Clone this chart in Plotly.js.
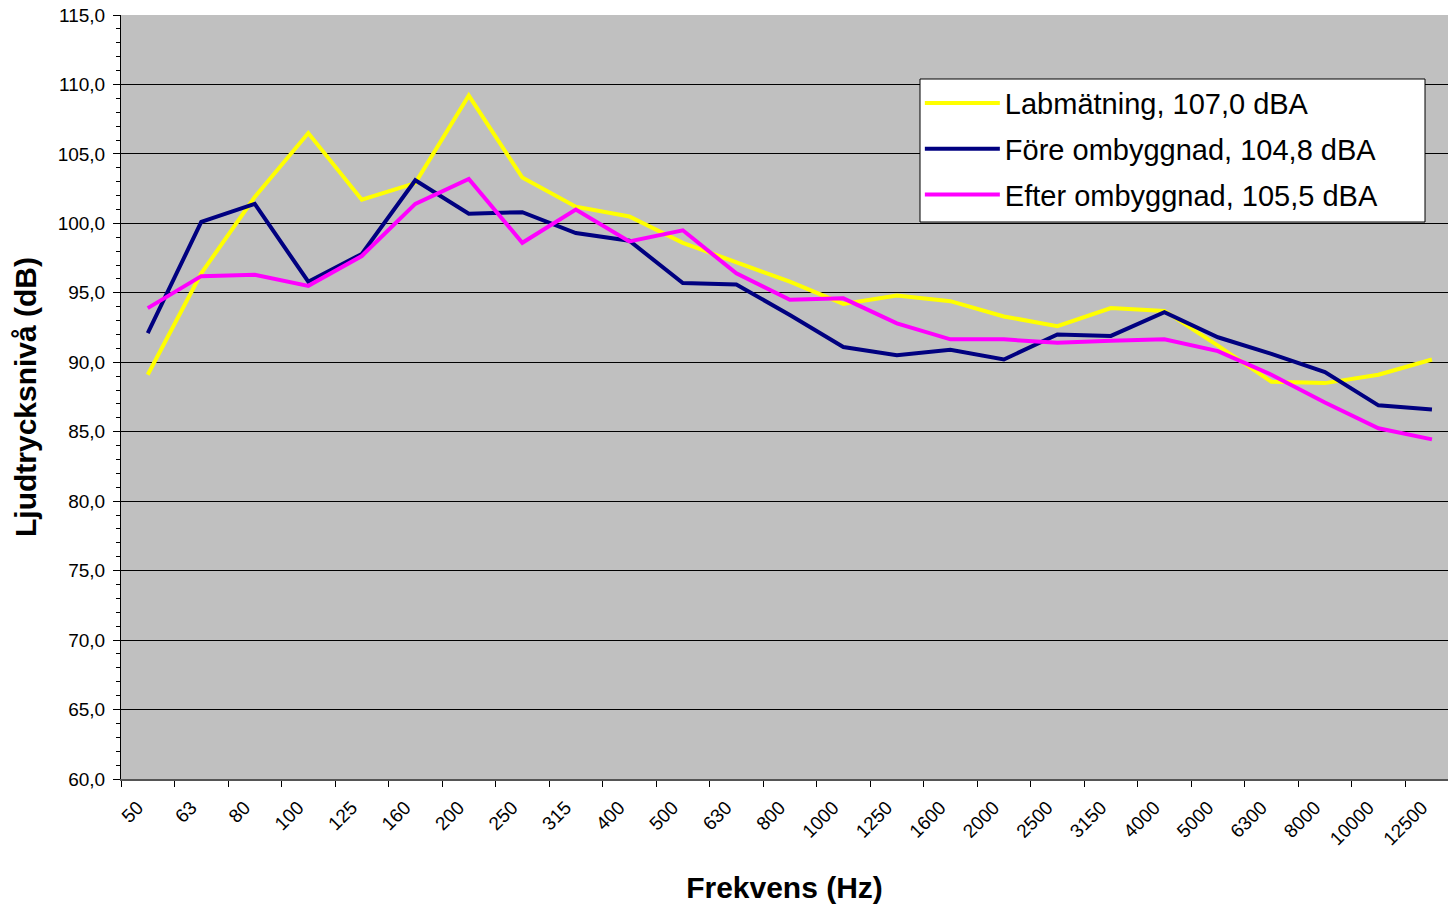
<!DOCTYPE html>
<html>
<head>
<meta charset="utf-8">
<script src="https://cdn.plot.ly/plotly-3.0.1.min.js"></script>
<style>html,body{margin:0;padding:0;background:#fff;}#chart{width:1448px;height:904px;}</style>
</head>
<body>
<div id="chart"></div>
<script>
const frequencies = ["50","63","80","100","125","160","200","250","315","400","500","630","800","1000","1250","1600","2000","2500","3150","4000","5000","6300","8000","10000","12500"];
const labmatning = [89.1,96.4,101.9,106.5,101.7,102.9,109.2,103.3,101.2,100.5,98.6,97.2,95.8,94.2,94.8,94.4,93.3,92.6,93.9,93.7,91.2,88.6,88.5,89.1,90.2];
const foreOmbyggnad = [92.1,100.1,101.4,95.8,97.8,103.1,100.7,100.8,99.3,98.75,95.7,95.6,93.4,91.1,90.5,90.9,90.2,92.0,91.9,93.6,91.8,90.6,89.3,86.9,86.6];
const efterOmbyggnad = [93.9,96.2,96.3,95.5,97.65,101.4,103.2,98.6,101.0,98.7,99.5,96.4,94.5,94.6,92.8,91.65,91.65,91.4,91.55,91.65,90.8,89.1,87.1,85.25,84.45];
const seriesNames = ["Labmätning, 107,0 dBA","Före ombyggnad, 104,8 dBA","Efter ombyggnad, 105,5 dBA"];
const seriesColors = ["#FFFF00","#000080","#FF00FF"];
const seriesValues = [labmatning, foreOmbyggnad, efterOmbyggnad];

const font = "Liberation Sans, Arial, sans-serif";
const traces = seriesValues.map((vals, k) => ({
  type: "scatter",
  mode: "lines",
  x: frequencies,
  y: vals,
  name: seriesNames[k],
  legendgroup: "g" + k,
  line: {color: seriesColors[k], width: 4},
  hoverinfo: "skip"
}));

const layout = {
  width: 1448,
  height: 904,
  separators: ",.",
  paper_bgcolor: "#ffffff",
  plot_bgcolor: "#C0C0C0",
  margin: {l: 121, r: 0, t: 15, b: 125},
  font: {family: font, color: "#000"},
  showlegend: true,
  shapes: [{
    type: "rect", xref: "paper", yref: "paper", layer: "above",
    x0: (920 - 121) / 1327, x1: (1425 - 121) / 1327,
    y0: (779 - 222) / 764, y1: (779 - 79) / 764,
    fillcolor: "#ffffff", line: {color: "#000000", width: 1}
  }],
  legend: {
    x: 0.602, y: 0.918, xanchor: "left", yanchor: "top",
    bgcolor: "rgba(0,0,0,0)", borderwidth: 0,
    font: {family: font, size: 29, color: "#000"},
    traceorder: "grouped", tracegroupgap: 5,
    itemwidth: 75
  },
  xaxis: {
    type: "category",
    range: [-0.5, 24.3],
    tickson: "boundaries",
    ticks: "outside", ticklen: 6, tickcolor: "#000", tickwidth: 1,
    tickangle: -45,
    ticklabelshift: -10,
    ticklabelstandoff: 8,
    tickfont: {family: font, size: 19, color: "#000"},
    showgrid: false,
    showline: true, linecolor: "#555555", linewidth: 2,
    zeroline: false,
    title: {text: "<b>Frekvens (Hz)</b>", font: {family: font, size: 30, color: "#000"}, standoff: 30}
  },
  yaxis: {
    range: [60, 115],
    tick0: 60, dtick: 5,
    tickformat: ".1f",
    ticks: "outside", ticklen: 7, tickcolor: "#000", tickwidth: 1,
    ticklabelstandoff: 4,
    tickfont: {family: font, size: 19, color: "#000"},
    minor: {dtick: 1, ticks: "outside", ticklen: 4, tickcolor: "#000", showgrid: false},
    showgrid: true, gridcolor: "#000000", gridwidth: 1,
    showline: true, linecolor: "#000", linewidth: 1,
    zeroline: false,
    title: {text: "<b>Ljudtrycksnivå (dB)</b>", font: {family: font, size: 30, color: "#000"}, standoff: 12}
  }
};

Plotly.newPlot("chart", traces, layout, {displayModeBar: false, staticPlot: true});
</script>
</body>
</html>
